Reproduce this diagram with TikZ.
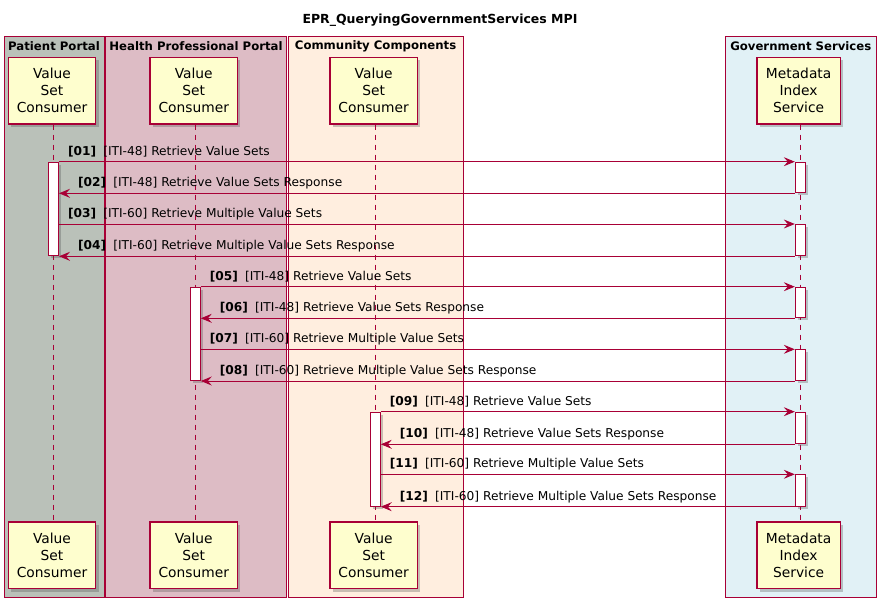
\documentclass[tikz,border=0pt]{standalone}
\usepackage{fontspec}
\setmainfont{DejaVu Sans}
\usetikzlibrary{arrows.meta,shadows}
\definecolor{pred}{HTML}{A80036}
\definecolor{pyel}{HTML}{FEFECE}
\definecolor{cPat}{HTML}{BAC1B9}
\definecolor{cHpp}{HTML}{DDBCC5}
\definecolor{cCom}{HTML}{FFEEDF}
\definecolor{cGov}{HTML}{E1F1F6}
\newcommand{\msgfont}{\fontsize{12.2}{14}\selectfont}
\newcommand{\partfont}{\fontsize{13.8}{17}\selectfont}
\newcommand{\grpfont}{\fontsize{11.7}{13}\selectfont\bfseries}
\newcommand{\mlab}[2]{{\bfseries [#1]}\hspace{7.2pt}#2}
\tikzset{
  grp/.style={draw=pred, line width=1pt},
  grptitle/.style={font=\grpfont, inner sep=0pt},
  part/.style={draw=pred, fill=pyel, line width=1.2pt, align=center, inner sep=0pt,
     minimum height=66.7pt, font=\partfont,
     drop shadow={shadow xshift=3pt, shadow yshift=-3pt, opacity=0.3, fill=black!70}},
  actbar/.style={draw=pred, fill=white, line width=1pt, minimum width=10pt, inner sep=0pt,
     drop shadow={shadow xshift=2.5pt, shadow yshift=-2.5pt, opacity=0.3, fill=black!70}},
  life/.style={draw=pred, line width=0.9pt, dash pattern=on 5pt off 5pt},
  msg/.style={draw=pred, line width=0.9pt, -{Stealth[length=11pt,width=9pt,inset=4pt]}},
  mtext/.style={font=\msgfont, anchor=west, inner sep=0pt}
}
\begin{document}
\begin{tikzpicture}[x=1pt,y=-1pt]
\useasboundingbox (0,0) rectangle (887,608);
\fill[white] (0,0) rectangle (887,608);
% title
\node[font=\fontsize{12.5}{15}\selectfont\bfseries, inner sep=0pt] (title) at (440,20) {EPR\_QueryingGovernmentServices MPI};
% group boxes
\draw[grp, fill=cPat] (4,36) rectangle (104,597.6);
\draw[grp, fill=cHpp] (105.5,36) rectangle (286.7,597.6);
\draw[grp, fill=cCom] (288,36) rectangle (463.3,597.6);
\draw[grp, fill=cGov] (725,36) rectangle (876.7,597.6);
\node[grptitle] (gPat) at (54,46) {Patient Portal};
\node[grptitle] (gHpp) at (196,46) {Health Professional Portal};
\node[grptitle] (gCom) at (375.6,46) {Community Components};
\node[grptitle] (gGov) at (800.8,46) {Government Services};
% participants
\node[part, minimum width=87.4pt] (pP) at (52,90.65) {Value\\Set\\Consumer};
\node[part, minimum width=87.4pt] (pH) at (193.75,90.65) {Value\\Set\\Consumer};
\node[part, minimum width=87.4pt] (pC) at (373.65,90.65) {Value\\Set\\Consumer};
\node[part, minimum width=83.3pt] (pG) at (798.65,90.65) {Metadata\\Index\\Service};
\node[part, minimum width=87.4pt] (bP) at (52,555.3) {Value\\Set\\Consumer};
\node[part, minimum width=87.4pt] (bH) at (193.75,555.3) {Value\\Set\\Consumer};
\node[part, minimum width=87.4pt] (bC) at (373.65,555.3) {Value\\Set\\Consumer};
\node[part, minimum width=83.3pt] (bG) at (798.65,555.3) {Metadata\\Index\\Service};
% lifelines
\coordinate (lP) at (53.5,0);
\coordinate (lH) at (195.3,0);
\coordinate (lC) at (375.3,0);
\coordinate (lG) at (800.3,0);
\draw[life] (lP |- pP.south) -- (lP |- bP.north);
\draw[life] (lH |- pH.south) -- (lH |- bH.north);
\draw[life] (lC |- pC.south) -- (lC |- bC.north);
\draw[life] (lG |- pG.south) -- (lG |- bG.north);
% activation bars
\node[actbar, minimum height=93.6pt, anchor=north] (aP) at (53.5,161.7) {};
\node[actbar, minimum height=93.3pt, anchor=north] (aH) at (195.3,286.7) {};
\node[actbar, minimum height=94.0pt, anchor=north] (aC) at (375.3,411.7) {};
\node[actbar, minimum height=30.6pt, anchor=north] (g1) at (800.3,161.7) {};
\node[actbar, minimum height=31.3pt, anchor=north] (g2) at (800.3,224.0) {};
\node[actbar, minimum height=30.6pt, anchor=north] (g3) at (800.3,286.7) {};
\node[actbar, minimum height=30.7pt, anchor=north] (g4) at (800.3,349.3) {};
\node[actbar, minimum height=31.6pt, anchor=north] (g5) at (800.3,411.7) {};
\node[actbar, minimum height=31.4pt, anchor=north] (g6) at (800.3,474.3) {};
% messages
\draw[msg] (aP.east |- g1.north) -- (g1.north west);
\draw[msg] (g1.south west) -- (aP.east |- g1.south);
\draw[msg] (aP.east |- g2.north) -- (g2.north west);
\draw[msg] (g2.south west) -- (aP.east |- g2.south);
\draw[msg] (aH.east |- g3.north) -- (g3.north west);
\draw[msg] (g3.south west) -- (aH.east |- g3.south);
\draw[msg] (aH.east |- g4.north) -- (g4.north west);
\draw[msg] (g4.south west) -- (aH.east |- g4.south);
\draw[msg] (aC.east |- g5.north) -- (g5.north west);
\draw[msg] (g5.south west) -- (aC.east |- g5.south);
\draw[msg] (aC.east |- g6.north) -- (g6.north west);
\draw[msg] (g6.south west) -- (aC.east |- g6.south);
% labels
\node[mtext] (t01) at ([xshift=8.8pt,yshift=10pt]aP.east |- g1.north) {\mlab{01}{[ITI-48] Retrieve Value Sets}};
\node[mtext] (t02) at ([xshift=18.8pt,yshift=10pt]aP.east |- g1.south) {\mlab{02}{[ITI-48] Retrieve Value Sets Response}};
\node[mtext] (t03) at ([xshift=8.8pt,yshift=10pt]aP.east |- g2.north) {\mlab{03}{[ITI-60] Retrieve Multiple Value Sets}};
\node[mtext] (t04) at ([xshift=18.8pt,yshift=10pt]aP.east |- g2.south) {\mlab{04}{[ITI-60] Retrieve Multiple Value Sets Response}};
\node[mtext] (t05) at ([xshift=8.8pt,yshift=10pt]aH.east |- g3.north) {\mlab{05}{[ITI-48] Retrieve Value Sets}};
\node[mtext] (t06) at ([xshift=18.8pt,yshift=10pt]aH.east |- g3.south) {\mlab{06}{[ITI-48] Retrieve Value Sets Response}};
\node[mtext] (t07) at ([xshift=8.8pt,yshift=10pt]aH.east |- g4.north) {\mlab{07}{[ITI-60] Retrieve Multiple Value Sets}};
\node[mtext] (t08) at ([xshift=18.8pt,yshift=10pt]aH.east |- g4.south) {\mlab{08}{[ITI-60] Retrieve Multiple Value Sets Response}};
\node[mtext] (t09) at ([xshift=8.8pt,yshift=10pt]aC.east |- g5.north) {\mlab{09}{[ITI-48] Retrieve Value Sets}};
\node[mtext] (t10) at ([xshift=18.8pt,yshift=10pt]aC.east |- g5.south) {\mlab{10}{[ITI-48] Retrieve Value Sets Response}};
\node[mtext] (t11) at ([xshift=8.8pt,yshift=10pt]aC.east |- g6.north) {\mlab{11}{[ITI-60] Retrieve Multiple Value Sets}};
\node[mtext] (t12) at ([xshift=18.8pt,yshift=10pt]aC.east |- g6.south) {\mlab{12}{[ITI-60] Retrieve Multiple Value Sets Response}};
\end{tikzpicture}
\end{document}
